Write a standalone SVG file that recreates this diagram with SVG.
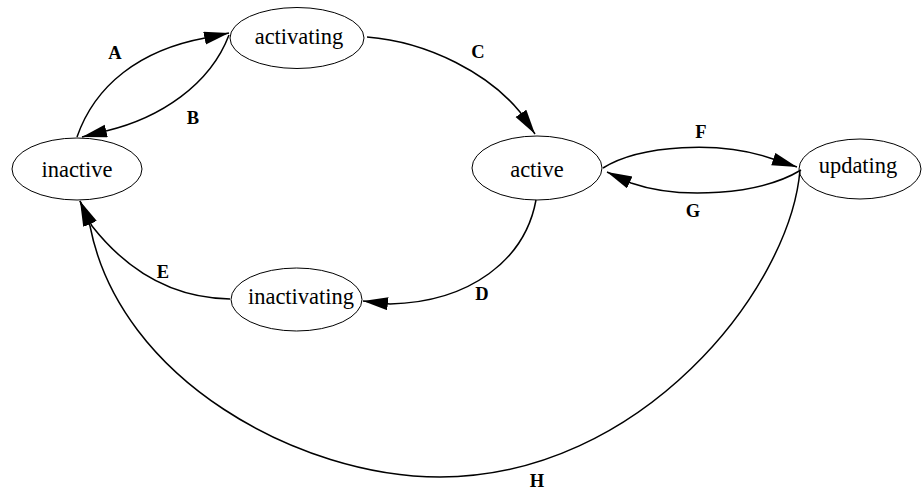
<svg xmlns="http://www.w3.org/2000/svg" width="922" height="491" viewBox="0 0 922 491">
<style>
.node ellipse{fill:none;stroke:#000;stroke-width:1}
.node text{font-family:"Liberation Serif","Times New Roman",serif;font-size:22.5px;text-anchor:middle;fill:#000}
.edge path{fill:none;stroke:#000;stroke-width:1.5}
.lbl{font-family:"Liberation Serif","Times New Roman",serif;font-size:18.5px;font-weight:bold;text-anchor:middle;fill:#000}
</style>
<defs>
<marker id="arr" markerUnits="userSpaceOnUse" markerWidth="26" markerHeight="14" refX="25" refY="6.5" orient="auto">
<path d="M0,0 L25,6.5 L0,13 Z" fill="#000"/>
</marker>
</defs>
<rect width="922" height="491" fill="#fff"/>
<g id="edges" class="edge">
<g id="eA"><path d="M77,137 C95,85 140,50 205,38 L229,33" marker-end="url(#arr)"/><text class="lbl" x="115" y="59">A</text></g>
<g id="eB"><path d="M229,35 C210,85 160,118 106,131 L82,137" marker-end="url(#arr)"/><text class="lbl" x="193" y="124">B</text></g>
<g id="eC"><path d="M367,37 C430,42 490,75 520,112 L535,134" marker-end="url(#arr)"/><text class="lbl" x="478" y="58">C</text></g>
<g id="eD"><path d="M536,200 C525,260 470,302 390,304 L363,301" marker-end="url(#arr)"/><text class="lbl" x="482" y="300">D</text></g>
<g id="eE"><path d="M230,299 C170,298 125,268 92,226 L80,201" marker-end="url(#arr)"/><text class="lbl" x="163" y="278">E</text></g>
<g id="eF"><path d="M603,168 C640,145 720,140 773,159 L797,167" marker-end="url(#arr)"/><text class="lbl" x="701" y="138">F</text></g>
<g id="eG"><path d="M801,170 C760,195 680,200 631,183 L607,172" marker-end="url(#arr)"/><text class="lbl" x="693" y="217">G</text></g>
<g id="eH"><path d="M800,170 C790,290 640,477 440,477 C300,477 120,380 90,226 L80,201" marker-end="url(#arr)"/><text class="lbl" x="537" y="487">H</text></g>
</g>
<g id="inactive" class="node"><ellipse cx="77" cy="169" rx="65" ry="31"/><text x="77" y="177">inactive</text></g>
<g id="activating" class="node"><ellipse cx="297" cy="38" rx="67" ry="30.5"/><text x="299" y="44">activating</text></g>
<g id="active" class="node"><ellipse cx="537" cy="168" rx="65" ry="32"/><text x="537" y="177">active</text></g>
<g id="updating" class="node"><ellipse cx="860" cy="169" rx="61" ry="30"/><text x="858" y="173">updating</text></g>
<g id="inactivating" class="node"><ellipse cx="296.5" cy="299.5" rx="65.5" ry="31.5"/><text x="301" y="304">inactivating</text></g>
</svg>
